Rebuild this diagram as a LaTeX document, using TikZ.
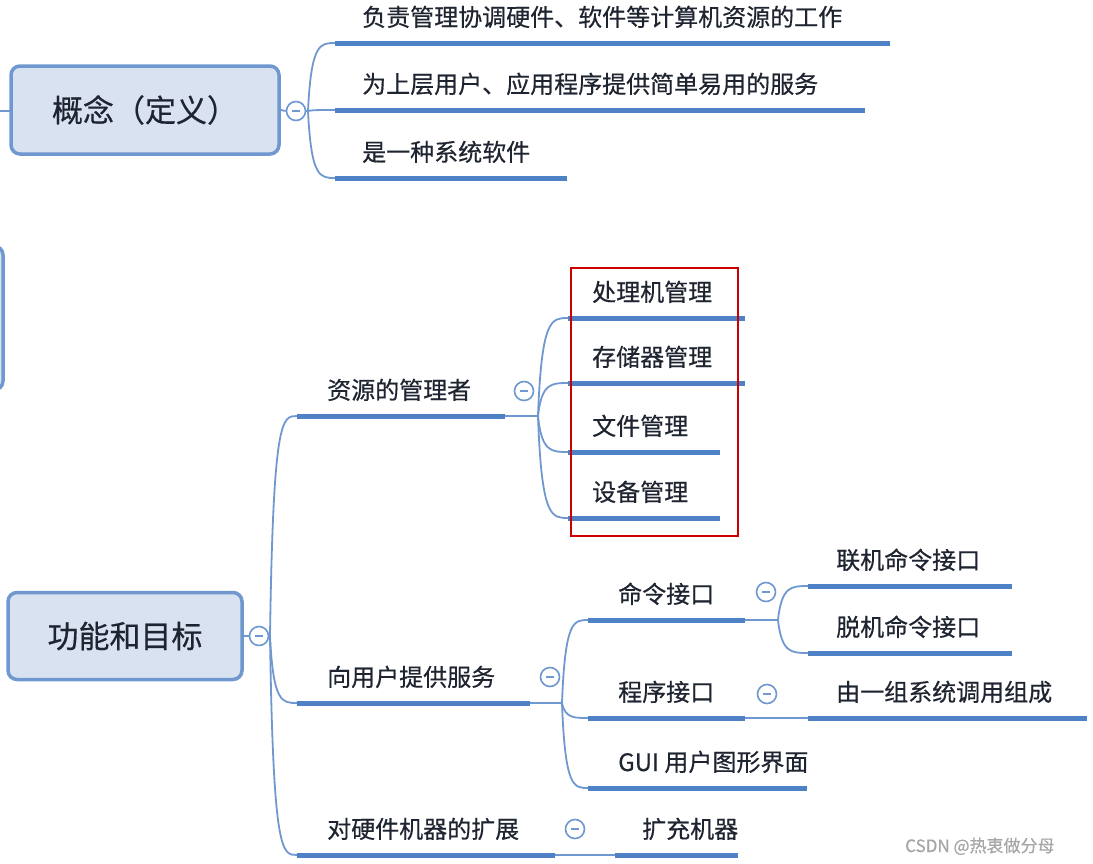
\documentclass[tikz,border=0pt]{standalone}
\usepackage{fontspec}
\setmainfont{Noto Sans CJK SC}[FakeBold=0.5]
\usetikzlibrary{calc}
\definecolor{ub}{HTML}{4F81C7}
\definecolor{cb}{HTML}{6E98CF}
\definecolor{bf}{HTML}{D8E2F0}
\definecolor{tx}{HTML}{1E2430}
\tikzset{
 ul/.style={ub,line width=5pt},
 con/.style={cb,line width=1.8pt},
 lbl/.style={anchor=base west,inner sep=0pt,font=\fontsize{24}{24}\selectfont,text=tx},
 big/.style={draw=cb,line width=3.5pt,fill=bf,rounded corners=9pt,font=\fontsize{31}{31}\selectfont,text=tx},
 tog/.style={circle,draw=cb,line width=1.6pt,fill=white,minimum size=19pt,inner sep=0pt},
}
\newcommand\brn[2]{\path ($(#1)!0.12!(#2)$) coordinate (tmpa) ($(#1)!0.45!(#2)$) coordinate (tmpb);
 \draw[con] (#1) .. controls (tmpa |- #2) and (tmpb |- #2) .. (#2);}
\newcommand\tg[3]{\node[tog] (#1) at (#2,#3) {}; \draw[cb,line width=1.5pt] ($(#1)+(-4,0)$) -- ($(#1)+(4,0)$);}
\begin{document}
\begin{tikzpicture}[x=1pt,y=-1pt]
\useasboundingbox (0,0) rectangle (1093,863);
\draw[big] (-60,246) rectangle (3,390);
\draw[con] (0,111) -- (12,111);
\node[big,minimum width=268pt,minimum height=88pt] (c1) at (145,110) {概念（定义）};
\tg{t1}{296}{111}
\draw[con] (c1.east) -- (t1.west);
\coordinate (f1) at (308,111);
\draw[con] (t1.east) -- (f1);
\foreach \n/\y/\xe/\t in {a/43/890/负责管理协调硬件、软件等计算机资源的工作, b/110/865/为上层用户、应用程序提供简单易用的服务, c/178/567/是一种系统软件}{
 \coordinate (u\n) at (335,\y);
 \draw[ul] (335,\y) -- (\xe,\y);
 \node[lbl] (l\n) at (362,\y-17) {\t};
 \brn{f1}{u\n}
}
\node[big,minimum width=234pt,minimum height=87pt] (c2) at (125,636) {功能和目标};
\tg{t2}{259}{636}
\draw[con] (c2.east) -- (t2.west);
\coordinate (f2) at (270,636);
\draw[con] (t2.east) -- (f2);
\foreach \n/\y/\xe/\t in {r/416/505/资源的管理者, s/703/530/向用户提供服务, e/855/555/对硬件机器的扩展}{
 \coordinate (u\n) at (297,\y);
 \draw[ul] (297,\y) -- (\xe,\y);
 \node[lbl] (l\n) at (327,\y-17) {\t};
 \brn{f2}{u\n}
}
\tg{t3}{524}{391}
\coordinate (f3) at (538,416);
\draw[con] (505,416) -- (f3);
\foreach \n/\y/\xe/\t in {p/318/745/处理机管理, m/383/745/存储器管理, w/452/720/文件管理, d/518/720/设备管理}{
 \coordinate (u\n) at (568,\y);
 \draw[ul] (568,\y) -- (\xe,\y);
 \node[lbl] (l\n) at (592,\y-17) {\t};
 \brn{f3}{u\n}
}
\draw[red!80!black,line width=2.2pt] (571,268) rectangle (738,536);
\tg{t4}{550}{677}
\coordinate (f4) at (562,703);
\draw[con] (530,703) -- (f4);
\foreach \n/\y/\xe/\t in {k/620/745/命令接口, g/718/745/程序接口, h/788/807/GUI 用户图形界面}{
 \coordinate (u\n) at (588,\y);
 \draw[ul] (588,\y) -- (\xe,\y);
 \node[lbl] (l\n) at (618,\y-17) {\t};
 \brn{f4}{u\n}
}
\tg{t5}{766}{592}
\coordinate (f5) at (778,620);
\draw[con] (745,620) -- (f5);
\foreach \n/\y/\t in {o/586/联机命令接口, q/653/脱机命令接口}{
 \coordinate (u\n) at (808,\y);
 \draw[ul] (808,\y) -- (1012,\y);
 \node[lbl] (l\n) at (836,\y-17) {\t};
 \brn{f5}{u\n}
}
\tg{t6}{767}{694}
\coordinate (uz) at (808,718);
\draw[con] (745,718) -- (uz);
\draw[ul] (uz) -- (1087,718);
\node[lbl] (lz) at (836,701) {由一组系统调用组成};
\tg{t7}{575}{829}
\coordinate (uy) at (615,855);
\draw[con] (555,855) -- (uy);
\draw[ul] (uy) -- (738,855);
\node[lbl] (ly) at (642,838) {扩充机器};
\node[anchor=base west,inner sep=0pt,font=\fontsize{17}{17}\selectfont,text=gray!70] (wm) at (905,852) {CSDN @热衷做分母};
\end{tikzpicture}
\end{document}
